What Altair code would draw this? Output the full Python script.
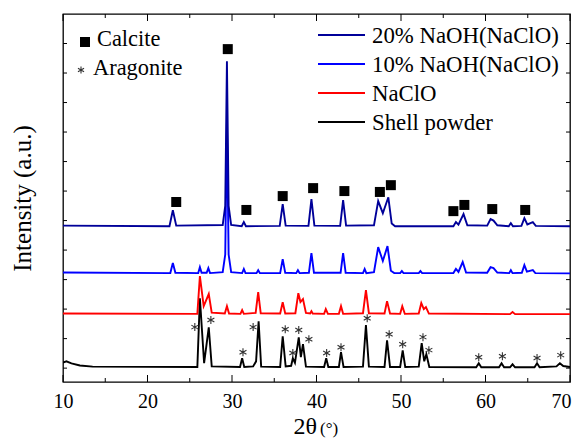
import altair as alt
import pandas as pd

# ---------------- data (2theta in degrees, intensity in a.u.) ----------------
th_shell = [10.0, 10.4, 11.0, 12.0, 13.5, 25.9, 26.2, 26.7, 27.25, 27.6, 30.95, 31.2, 31.45, 32.5, 32.85,
            33.15, 33.45, 35.7, 36.0, 36.35, 37.0, 37.2, 37.45, 37.9, 38.15, 38.4, 38.75, 40.9, 41.15, 41.4,
            42.65, 42.9, 43.2, 45.5, 45.85, 46.2, 48.05, 48.35, 48.7, 49.9, 50.2, 50.5, 52.1, 52.45, 52.75,
            53.0, 53.35, 58.9, 59.2, 59.5, 61.6, 61.9, 62.2, 62.9, 63.2, 63.5, 65.8, 66.1, 66.4, 68.4, 68.8,
            69.2, 70.0]
in_shell = [190, 230, 160, 90, 50, 40, 2370, 170, 1385, 60, 40, 335, 40, 60, 230,
            1590, 50, 40, 1080, 60, 80, 335, 180, 1045, 370, 810, 50, 40, 335, 40,
            40, 540, 40, 50, 1455, 50, 40, 945, 40, 40, 605, 40, 50, 845, 230,
            470, 40, 30, 165, 30, 30, 165, 30, 30, 130, 30, 30, 165, 30, 60, 165,
            70, 40]

th_naclo = [10.0, 25.9, 26.2, 26.65, 27.25, 27.6, 29.15, 29.4, 29.65, 31.0, 31.2, 31.4, 32.8, 33.1, 33.4,
            35.7, 36.0, 36.3, 37.5, 37.85, 38.1, 38.4, 38.75, 39.25, 39.4, 39.55, 40.9, 41.1, 41.35, 42.65,
            42.9, 43.15, 45.5, 45.85, 46.2, 48.05, 48.35, 48.7, 49.9, 50.15, 50.45, 52.1, 52.4, 52.7, 52.95,
            53.3, 62.9, 63.2, 63.5, 70.0]
in_naclo = [1850, 1840, 3120, 2100, 2510, 1880, 1850, 2100, 1850, 1840, 1970, 1840, 1870, 2575, 1860,
            1850, 2235, 1850, 1860, 2540, 2240, 2340, 1870, 1850, 1930, 1850, 1840, 2000, 1840, 1840,
            2100, 1840, 1860, 2645, 1860, 1850, 2270, 1850, 1840, 2100, 1840, 1850, 2205, 2000, 2070,
            1850, 1830, 1900, 1830, 1830]

th_10 = [10.0, 22.7, 23.0, 23.3, 26.0, 26.2, 26.4, 27.0, 27.2, 27.4, 28.9, 29.2, 29.4, 29.6, 29.9,
         31.2, 31.4, 31.6, 32.9, 33.1, 33.3, 35.7, 36.0, 36.3, 37.6, 37.8, 38.0, 39.1, 39.4, 39.7,
         42.85, 43.15, 43.45, 45.5, 45.7, 45.9, 46.8, 47.3, 47.85, 48.4, 48.8, 49.2, 49.9, 50.1, 50.3,
         52.1, 52.3, 52.5, 56.2, 56.5, 56.8, 57.3, 57.7, 60.2, 60.6, 60.95, 61.4, 62.8, 63.0, 63.2,
         64.3, 64.6, 64.9, 65.6, 65.9, 70.0]
in_10 = [3240, 3220, 3560, 3230, 3220, 3420, 3230, 3230, 3390, 3220, 3250, 3850, 8310, 3850, 3250,
         3220, 3360, 3220, 3220, 3320, 3220, 3220, 3695, 3230, 3220, 3320, 3220, 3230, 3900, 3230,
         3230, 3900, 3230, 3220, 3360, 3220, 3250, 4100, 3630, 4135, 3300, 3220, 3220, 3290, 3220,
         3220, 3290, 3220, 3220, 3360, 3260, 3595, 3240, 3230, 3420, 3390, 3240, 3220, 3320, 3220,
         3230, 3490, 3270, 3320, 3220, 3210]

th_20 = [10.0, 22.6, 23.0, 23.4, 28.9, 29.2, 29.4, 29.6, 29.9, 31.15, 31.4, 31.65, 35.65, 36.0, 36.35,
         39.05, 39.4, 39.75, 42.8, 43.15, 43.5, 46.8, 47.3, 47.85, 48.5, 48.9, 49.3, 56.2, 56.5, 56.8,
         57.4, 57.85, 60.2, 60.6, 60.95, 61.4, 62.75, 63.0, 63.25, 64.25, 64.6, 64.95, 65.6, 65.95, 70.0]
in_20 = [4830, 4810, 5350, 4830, 4850, 5500, 10400, 5500, 4850, 4810, 4950, 4810, 4820, 5560, 4830,
         4820, 5725, 4830, 4820, 5690, 4830, 4840, 5660, 5250, 5790, 4900, 4810, 4810, 4950, 4860,
         5220, 4840, 4830, 5050, 5000, 4840, 4810, 4910, 4810, 4820, 5080, 4870, 4950, 4820, 4810]

calcite_theta = [23.4, 29.5, 31.7, 36.0, 39.6, 43.3, 47.5, 48.8, 56.2, 57.5, 60.8, 64.7]
calcite_int = [5630, 10810, 5360, 5830, 6100, 6000, 5970, 6200, 5320, 5530, 5390, 5360]

aragonite_theta = [25.6, 27.5, 31.3, 32.5, 36.3, 37.2, 37.9, 39.1, 41.2, 42.9, 46.0, 48.6, 50.2,
                   52.6, 53.3, 59.2, 62.0, 66.1, 68.9]
aragonite_int = [1390, 1630, 540, 1390, 1320, 510, 1290, 980, 510, 710, 1690, 1150, 810,
                 1050, 610, 370, 400, 340, 440]

series_names = ["20% NaOH(NaClO)", "10% NaOH(NaClO)", "NaClO", "Shell powder"]
series_colors = ["#000099", "#0000FF", "#FF0000", "#000000"]

x_major = [10, 20, 30, 40, 50, 60, 70]
x_minor = [15, 25, 35, 45, 55, 65]
y_ticks = [0, 1000, 2000, 3000, 4000, 5000, 6000, 7000, 8000, 9000, 10000, 11000]

# ---------------- chart ----------------
FONT = "Liberation Serif"
W, H = 507, 368

xs = alt.Scale(domain=[10, 70], nice=False, zero=False)
ys = alt.Scale(domain=[-470, 12000], nice=False, zero=False)

x_axis = alt.Axis(values=x_major, format="d", labelFont=FONT, labelFontSize=20, labelColor="black",
                  labelPadding=9, labelFlush=False,
                  labelOffset={"condition": {"test": "datum.value == 70", "value": -9}, "value": 0},
                  ticks=False, domain=False, grid=False, title=None)
y_axis = alt.Axis(labels=False, ticks=False, domain=False, grid=False, title="Intensity (a.u.)",
                  titleFont=FONT, titleFontSize=25, titleFontWeight="normal", titleColor="black",
                  titleX=-33, titleY=184, titleAngle=270, titleAlign="center", titleBaseline="alphabetic")

X = alt.X("theta:Q", scale=xs, axis=x_axis)
Y = alt.Y("intensity:Q", scale=ys, axis=y_axis)

layers = []
series_data = {
    "Shell powder": (th_shell, in_shell),
    "NaClO": (th_naclo, in_naclo),
    "10% NaOH(NaClO)": (th_10, in_10),
    "20% NaOH(NaClO)": (th_20, in_20),
}
color_of = dict(zip(series_names, series_colors))
for name in ["Shell powder", "NaClO", "10% NaOH(NaClO)", "20% NaOH(NaClO)"]:
    th, it = series_data[name]
    df = pd.DataFrame({"theta": th, "intensity": it})
    layers.append(alt.Chart(df).mark_line(color=color_of[name], strokeWidth=1.9, clip=True)
                  .encode(x=X, y=Y))

cal_df = pd.DataFrame({"theta": calcite_theta, "intensity": calcite_int})
layers.append(alt.Chart(cal_df).mark_point(shape="square", filled=True, size=100, color="black", opacity=1)
              .encode(x=X, y=Y))

ASTER = "M0,-1L0,1M-0.87,-0.5L0.87,0.5M-0.87,0.5L0.87,-0.5"
ara_df = pd.DataFrame({"theta": aragonite_theta, "intensity": aragonite_int})
layers.append(alt.Chart(ara_df).mark_point(shape=ASTER, filled=False, size=64, stroke="#333333",
                                           strokeWidth=1.1, opacity=1)
              .encode(x=X, y=Y))

# inward ticks
xmaj_df = pd.DataFrame({"theta": x_major})
xmin_df = pd.DataFrame({"theta": x_minor})
yt_df = pd.DataFrame({"intensity": y_ticks})
for df, ln in [(xmaj_df, 7), (xmin_df, 4)]:
    layers.append(alt.Chart(df).mark_rule(color="black", strokeWidth=1)
                  .encode(x=X, y=alt.value(H), y2=alt.value(H - ln)))
    layers.append(alt.Chart(df).mark_rule(color="black", strokeWidth=1)
                  .encode(x=X, y=alt.value(0), y2=alt.value(ln)))
layers.append(alt.Chart(yt_df).mark_rule(color="black", strokeWidth=1)
              .encode(y=Y, x=alt.value(0), x2=alt.value(4)))
layers.append(alt.Chart(yt_df).mark_rule(color="black", strokeWidth=1)
              .encode(y=Y, x=alt.value(W), x2=alt.value(W - 4)))

# legend (series)
anchor = pd.DataFrame({"k": [0]})
leg_y = [21, 50, 79, 108]
for name, col, ly in zip(series_names, series_colors, leg_y):
    layers.append(alt.Chart(anchor).mark_rule(color=col, strokeWidth=1.9)
                  .encode(x=alt.value(255), x2=alt.value(302), y=alt.value(ly)))
    layers.append(alt.Chart(anchor).mark_text(text=name, font=FONT, fontSize=22.8, color="black",
                                              align="left", baseline="alphabetic")
                  .encode(x=alt.value(309), y=alt.value(ly + 8)))

# legend (phases)
layers.append(alt.Chart(anchor).mark_point(shape="square", filled=True, size=100, color="black", opacity=1)
              .encode(x=alt.value(22), y=alt.value(28)))
layers.append(alt.Chart(anchor).mark_text(text="Calcite", font=FONT, fontSize=22.4, color="black",
                                          align="left", baseline="alphabetic")
              .encode(x=alt.value(34), y=alt.value(32)))
layers.append(alt.Chart(anchor).mark_point(shape=ASTER, filled=False, size=49, stroke="#333333",
                                           strokeWidth=1.1, opacity=1)
              .encode(x=alt.value(18), y=alt.value(56)))
layers.append(alt.Chart(anchor).mark_text(text="Aragonite", font=FONT, fontSize=22.4, color="black",
                                          align="left", baseline="alphabetic")
              .encode(x=alt.value(30), y=alt.value(61)))

# x-axis title
layers.append(alt.Chart(anchor).mark_text(text="2θ", font=FONT, fontSize=24, color="black",
                                          align="right", baseline="alphabetic")
              .encode(x=alt.value(254), y=alt.value(420)))
layers.append(alt.Chart(anchor).mark_text(text="(°)", font=FONT, fontSize=17, color="black",
                                          align="left", baseline="alphabetic")
              .encode(x=alt.value(257), y=alt.value(420)))

chart = alt.layer(*layers).properties(
    width=W, height=H,
    autosize=alt.AutoSizeParams(type="none"),
    padding={"left": 55, "top": 6, "right": 2, "bottom": 56},
    background="white",
).configure_view(stroke="black", strokeWidth=1.3)

chart.save("out.html", embed_options={"renderer": "svg", "actions": False})
